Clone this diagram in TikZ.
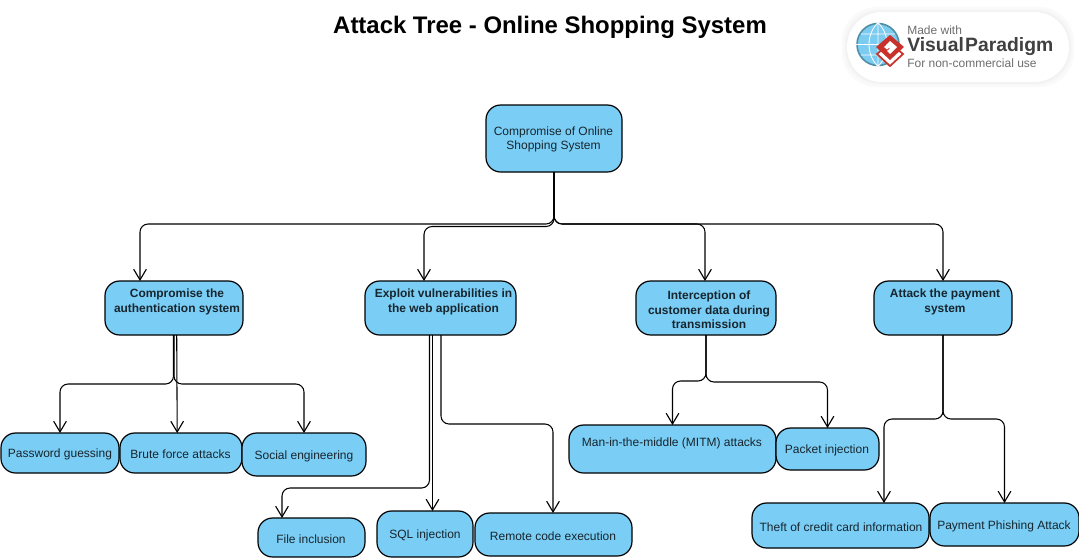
\documentclass[tikz,border=0pt]{standalone}
\usepackage{fontspec}
\setmainfont{Liberation Sans}
\usetikzlibrary{arrows.meta,calc}
\definecolor{boxblue}{HTML}{7ACEF5}
\definecolor{inktext}{HTML}{17252E}
\definecolor{logogray}{HTML}{6E6E6E}
\definecolor{logored}{HTML}{C8322B}
\definecolor{globeblue}{HTML}{7CCBF0}
\definecolor{globeedge}{HTML}{4F8FA6}
\tikzset{
  x=0.75pt,y=-0.75pt,
  boxshape/.style={draw=black,line width=0.9pt,fill=boxblue,rounded corners=11pt,inner sep=0pt,outer sep=0pt},
  lbl/.style={font=\fontsize{9pt}{11pt}\selectfont,text=inktext,align=center,inner sep=0pt},
  lblb/.style={lbl,font=\fontsize{8.95pt}{10.9pt}\selectfont\bfseries},
  conn/.style={draw=black,line width=0.8pt,rounded corners=6pt,-{Straight Barb[length=8pt,width=9.5pt,line width=0.85pt]}},
}
% name, left, top, right, bottom
\newcommand{\mkbox}[5]{%
  \pgfmathsetmacro{\bw}{(#4-#2)*0.75}\pgfmathsetmacro{\bh}{(#5-#3)*0.75}%
  \node[boxshape,minimum width=\bw pt,minimum height=\bh pt] (#1) at ({(#2+#4)/2},{(#3+#5)/2}) {};}
\begin{document}
\begin{tikzpicture}
\useasboundingbox (0,0) rectangle (1079,558);
\fill[white] (0,0) rectangle (1079,558);
% title
\node[font=\fontsize{17.95pt}{20pt}\selectfont\bfseries,inner sep=0pt] (title) at (550,27) {Attack Tree - Online Shopping System};
% logo
\foreach \g/\o in {5/2,3/3,1.5/5}{
  \fill[black!\o,rounded corners=26pt] ({847-\g},{12-\g}) rectangle ({1069+\g},{82+\g});}
\fill[white,rounded corners=26pt] (847,12) rectangle (1069,82);
\node[circle,draw=globeedge,line width=1.2pt,fill=globeblue,minimum size=31.5pt,inner sep=0pt] (globe) at (878,44.5) {};
\draw[white,line width=0.6pt] (globe.north) -- (globe.south) (globe.west) -- (globe.east)
  (861,34) -- (895,34) (861,55) -- (895,55)
  (globe.north) .. controls (866,34) and (866,55) .. (globe.south)
  (globe.north) .. controls (890,34) and (890,55) .. (globe.south);
\draw[logored,line width=1.3pt,fill=white] (877,54) -- (890,66) -- (903,54) -- (890,43) -- cycle;
\fill[logored] (890,35) -- (904,47) -- (890,60) -- (876,47) -- cycle;
\fill[white] (890,41) -- (897,47) -- (890,54) -- (887,51) -- (890,48.5) -- (886,45) -- cycle;
\fill[white] (884,47) -- (887,44.5) -- (890,47) -- (887,49.5) -- cycle;
\node[anchor=west,inner sep=0pt,text=logogray,font=\fontsize{9pt}{10pt}\selectfont] (lg1) at (907,30) {Made with};
\node[anchor=west,inner sep=0pt,text=black!75,font=\fontsize{14.5pt}{16pt}\selectfont\bfseries] (lg2) at (907,47) {Visual\kern1pt Paradigm};
\node[anchor=west,inner sep=0pt,text=logogray,font=\fontsize{9pt}{10pt}\selectfont] (lg3) at (907,63.5) {For non-commercial use};
% boxes
\mkbox{root}{486}{105}{622}{172}
\mkbox{aa}{105}{281}{243}{335}
\mkbox{ab}{365}{281}{516}{335}
\mkbox{ac}{636}{281}{776}{335}
\mkbox{ad}{874}{281}{1012}{335}
\mkbox{pw}{1}{433}{119}{473}
\mkbox{bf}{120}{433}{242}{473}
\mkbox{se}{242}{433}{366}{476}
\mkbox{fi}{258}{518}{365}{557}
\mkbox{sq}{377}{511}{473}{557}
\mkbox{rc}{475}{513}{632}{556}
\mkbox{mi}{569}{425}{776}{473}
\mkbox{pk}{776}{428}{879}{470}
\mkbox{th}{752}{503}{929}{548}
\mkbox{pp}{930}{503}{1079}{546}
% labels
\node[lbl] (troot) at (553.5,139.5) {Compromise of Online\\Shopping System};
\node[lblb] (taa) at (177,302) {Compromise the\\authentication system};
\node[lblb] (tab) at (443.5,302) {Exploit vulnerabilities in\\the web application};
\node[lblb] (tac) at (709,310) {Interception of\\customer data during\\transmission};
\node[lblb] (tad) at (945,302) {Attack the payment\\system};
\node[lbl] (tpw) at (60,454.5) {Password guessing};
\node[lbl] (tbf) at (180.5,454.5) {Brute force attacks};
\node[lbl] (tse) at (304,456.5) {Social engineering};
\node[lbl] (tfi) at (311,539.5) {File inclusion};
\node[lbl] (tsq) at (425,535.5) {SQL injection};
\node[lbl] (trc) at (553,536.5) {Remote code execution};
\node[lbl] (tmi) at (672,443.5) {Man-in-the-middle (MITM) attacks};
\node[lbl] (tpk) at (827,450.5) {Packet injection};
\node[lbl] (tth) at (841,527.5) {Theft of credit card information};
\node[lbl] (tpp) at (1004,526.5) {Payment Phishing Attack};
% connectors
\draw[conn] (root.south) -- ++(0,52) -| ($(aa.north)+(-34,0)$);
\draw[conn] (root.south) -- ++(0,54.5) -| ($(ab.north)+(-16.5,0)$);
\draw[conn] (root.south) -- ++(0,52) -| ($(ac.north)+(-1,0)$);
\draw[conn] (root.south) -- ++(0,52) -| ($(ad.north)+(0,0)$);
\draw[conn] ($(aa.south)+(-0.5,0)$) -- ++(0,49) -| ($(pw.north)+(0,0)$);
\draw[conn] ($(aa.south)+(2.7,0)$) -- ($(bf.north)+(-3.8,0)$);
\draw[conn] ($(aa.south)+(0,0)$) -- ++(0,49) -| ($(se.north)+(0,0)$);
\draw[conn] ($(ab.south)+(-11,0)$) -- ++(0,153) -| ($(fi.north)+(-29.5,0)$);
\draw[conn] ($(ab.south)+(-8,0)$) -- ($(sq.north)+(7.5,0)$);
\draw[conn] ($(ab.south)+(0.5,0)$) -- ++(0,89) -| ($(rc.north)+(-0.5,0)$);
\draw[conn] (ac.south) -- ++(0,46) -| ($(mi.north)+(0,0)$);
\draw[conn] (ac.south) -- ++(0,47) -| (pk.north);
\draw[conn] (ad.south) -- ++(0,84) -| ($(th.north)+(43.5,0)$);
\draw[conn] (ad.south) -- ++(0,84) -| (pp.north);
\end{tikzpicture}
\end{document}
